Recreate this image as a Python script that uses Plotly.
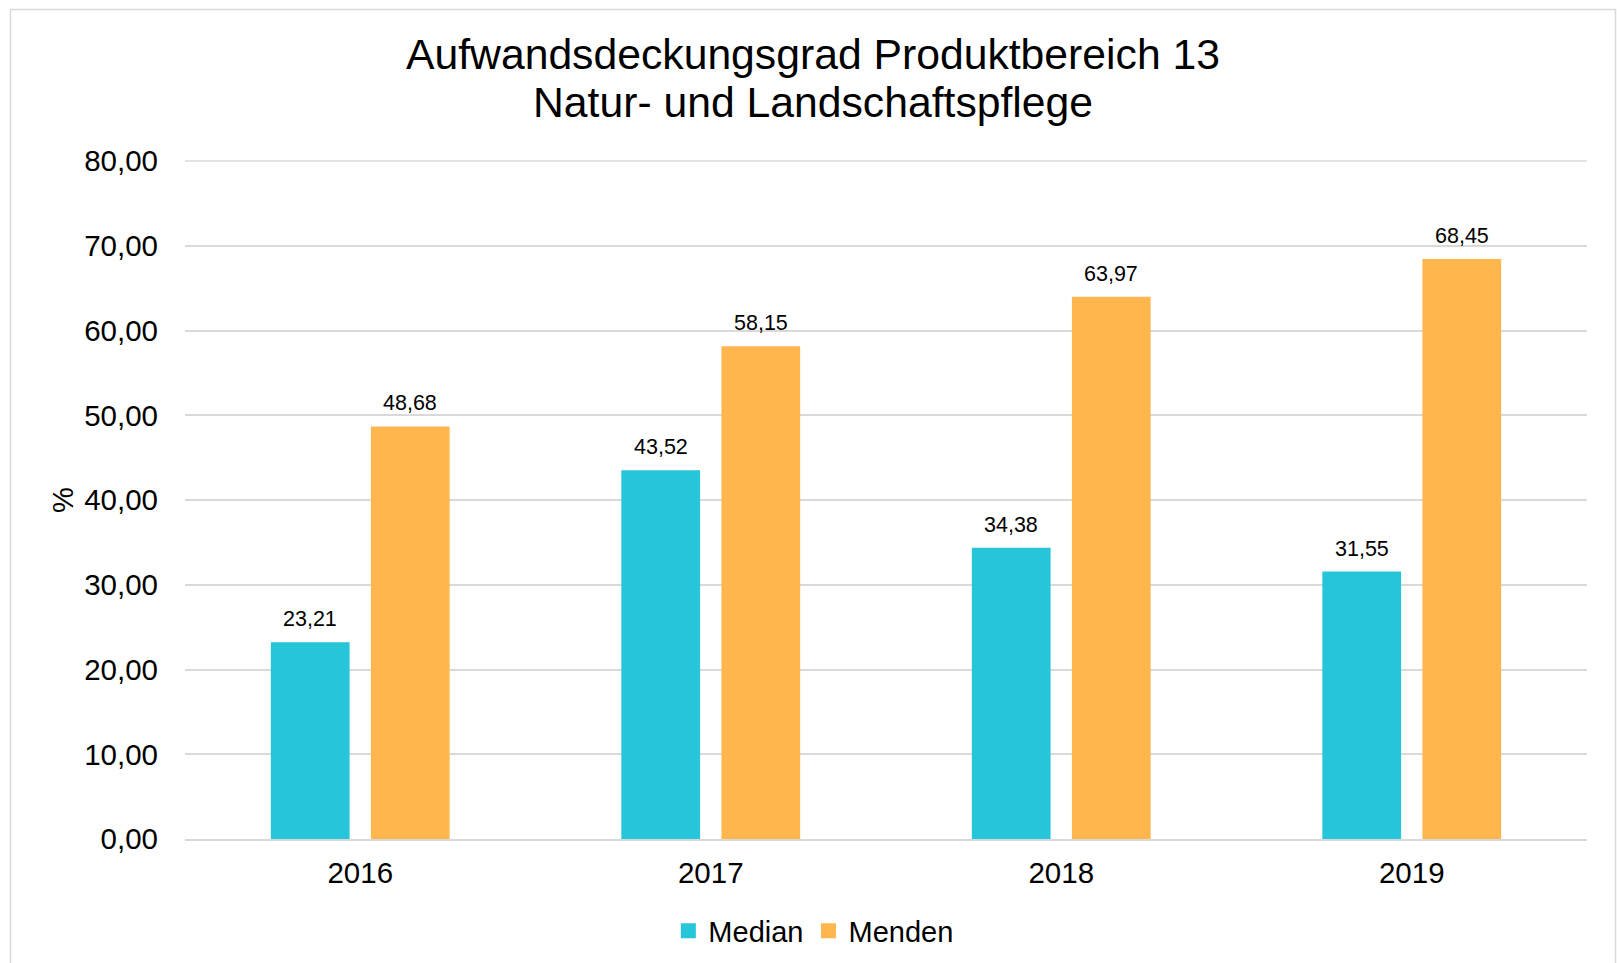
import plotly.graph_objects as go

years = ["2016", "2017", "2018", "2019"]
median_vals = [23.21, 43.52, 34.38, 31.55]
menden_vals = [48.68, 58.15, 63.97, 68.45]
series_names = ["Median", "Menden"]
y_ticks = [0, 10, 20, 30, 40, 50, 60, 70, 80]
title_lines = ["Aufwandsdeckungsgrad Produktbereich 13", "Natur- und Landschaftspflege"]

def fmt(v):
    return f"{v:.2f}".replace(".", ",")

FONT = "Arial, Liberation Sans, sans-serif"
C_MED = "#26C5D9"
C_MEN = "#FFB64F"
GRID = "#d9d9d9"

fig = go.Figure()
for name, vals, col in ((series_names[0], median_vals, C_MED), (series_names[1], menden_vals, C_MEN)):
    fig.add_trace(go.Bar(x=years, y=vals, name=name, marker_color=col,
                         marker_line_width=0, showlegend=False))
    # legend entry with a larger square symbol
    fig.add_trace(go.Scatter(x=[years[0]], y=[None], mode="markers", name=name,
                             marker=dict(symbol="square", size=15, color=col),
                             hoverinfo="skip"))

L, R, T, B = 185, 30, 161, 124
W, H = 1617, 963
pw, ph = W - L - R, H - T - B

def px2paper_x(px):
    return (px - L) / pw

def px2paper_y(py):
    return (H - B - py) / ph

annotations = []
for vals, shift in ((median_vals, -50), (menden_vals, 50)):
    for i, v in enumerate(vals):
        annotations.append(dict(x=i, y=v, xref="x", yref="y", text=fmt(v), showarrow=False,
                                xshift=shift, yshift=23, yanchor="middle",
                                font=dict(family=FONT, size=21.5, color="#000000")))

for line, ypx in zip(title_lines, (54, 102.5)):
    annotations.append(dict(x=px2paper_x(813), y=px2paper_y(ypx), xref="paper", yref="paper",
                            text=line, showarrow=False, xanchor="center", yanchor="middle",
                            font=dict(family=FONT, size=42.7, color="#000000")))

fig.add_shape(type="rect", xref="paper", yref="paper",
              x0=px2paper_x(10.5), x1=px2paper_x(1615.5),
              y0=px2paper_y(980), y1=px2paper_y(9.5),
              line=dict(color=GRID, width=1.5), fillcolor="rgba(0,0,0,0)", layer="below")
# top gridline (at the top edge of the axis range, not clipped)
fig.add_shape(type="line", xref="paper", yref="paper", x0=0, x1=1, y0=1, y1=1,
              line=dict(color=GRID, width=1.5), layer="below")

fig.update_layout(
    width=W, height=H,
    margin=dict(l=L, r=R, t=T, b=B, autoexpand=False),
    paper_bgcolor="white", plot_bgcolor="white",
    separators=",.",
    barmode="group", bargap=0.429, bargroupgap=0.213,
    font=dict(family=FONT, color="#000000"),
    xaxis=dict(type="category", range=[-0.5, 3.5], showgrid=False, showline=True,
               linecolor=GRID, linewidth=1.5, automargin=False,
               tickfont=dict(size=29.5, family=FONT, color="#000000"), ticks="", ticklabelstandoff=7),
    yaxis=dict(range=[0, 80], tickvals=y_ticks, tickformat=".2f", showgrid=True,
               gridcolor=GRID, gridwidth=1.5, zeroline=False, showline=False, automargin=False,
               tickfont=dict(size=29.5, family=FONT, color="#000000"), ticks="",
               ticklabelstandoff=26,
               title=dict(text="%", font=dict(size=29, family=FONT, color="#000000"), standoff=2)),
    legend=dict(orientation="h", x=0.503, xref="container", xanchor="center",
                y=1 - 931 / H, yref="container", yanchor="middle",
                font=dict(size=29, family=FONT, color="#000000"),
                itemsizing="trace", itemclick=False, itemdoubleclick=False),
    annotations=annotations,
    showlegend=True,
)

fig.write_html("out.html", config={"displayModeBar": False},
               post_script="document.body.style.margin='0px';")
